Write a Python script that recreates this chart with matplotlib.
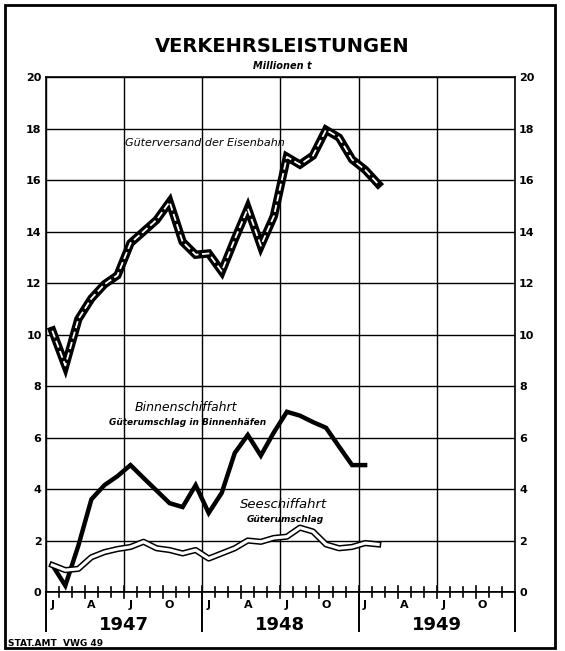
import matplotlib
matplotlib.use("Agg")
import matplotlib.pyplot as plt
import numpy as np

# monthly values, Jan 1947 onward (Millionen t)
eisenbahn = [10.15, 8.8, 10.6, 11.4, 11.95, 12.3, 13.55, 14.0, 14.45, 15.15, 13.6, 13.1,
             13.15, 12.45, 13.7, 14.9, 13.45, 14.6, 16.9, 16.6, 16.95, 17.95, 17.65, 16.8,
             16.4, 15.85]
binnen = [1.05, 0.25, 1.8, 3.6, 4.15, 4.5, 4.93, 4.43, 3.94, 3.45, 3.3, 4.15,
          3.07, 3.85, 5.4, 6.1, 5.3, 6.2, 7.0, 6.85, 6.6, 6.38, 5.65, 4.93,
          4.93]
see = [1.05, 0.85, 0.9, 1.35, 1.55, 1.67, 1.75, 1.95, 1.7, 1.63, 1.5, 1.63,
       1.3, 1.5, 1.7, 2.0, 1.95, 2.1, 2.15, 2.5, 2.35, 1.85, 1.7, 1.75,
       1.9, 1.85]
years = ["1947", "1948", "1949"]
month_labels = ["J", "A", "J", "O"]
yticks = list(range(0, 21, 2))

fig = plt.figure(figsize=(5.65, 6.51), dpi=100)
ax = fig.add_axes([0.081, 0.0906, 0.8305, 0.791])

ax.set_xlim(0, 36)
ax.set_ylim(0, 20)

# grid
for y in yticks:
    ax.axhline(y, color="black", lw=1.0, zorder=1)
for x in range(0, 37, 6):
    ax.axvline(x, color="black", lw=1.0, zorder=1)
ax.axhline(0, color="black", lw=2.0, zorder=2)

# year separators below the axis
for x in range(0, 37, 12):
    ax.plot([x, x], [0, -1.5], color="black", lw=1.4, clip_on=False)

# monthly ticks crossing the axis
for m in range(1, 36):
    h = 0.25 if m % 3 == 0 else 0.2
    ax.plot([m, m], [-h, h], color="black", lw=1.2, clip_on=False, zorder=3)

# month and year labels
for yi, year in enumerate(years):
    for qi, lab in enumerate(month_labels):
        ax.text(yi * 12 + qi * 3 + 0.5, -0.3, lab, ha="center", va="top",
                fontsize=8, fontweight="bold")
    ax.text(yi * 12 + 6, -1.3, year, ha="center", va="center",
            fontsize=13, fontweight="bold")

# Eisenbahn: thick black with white dashed core
xe = np.arange(len(eisenbahn)) + 0.5
ax.plot(xe, eisenbahn, color="black", lw=6, solid_joinstyle="miter", zorder=4)
ax.plot(xe, eisenbahn, color="white", lw=1.3, dashes=(4, 2), zorder=5)

# Binnenschiffahrt: solid black
xb = np.arange(len(binnen)) + 0.5
ax.plot(xb, binnen, color="black", lw=3.2, solid_joinstyle="miter", zorder=4)

# Seeschiffahrt: double line
xs = np.arange(len(see)) + 0.5
ax.plot(xs, see, color="black", lw=4.5, zorder=4)
ax.plot(xs, see, color="white", lw=2.3, zorder=5)

# series labels
ax.text(6.08, 17.44, "Güterversand der Eisenbahn", ha="left", va="center",
        fontsize=8, style="italic")
ax.text(6.85, 7.15, "Binnenschiffahrt", ha="left", va="center",
        fontsize=9, style="italic")
ax.text(10.85, 6.6, "Güterumschlag in Binnenhäfen", ha="center", va="center",
        fontsize=6.5, style="italic", fontweight="bold")
ax.text(14.9, 3.38, "Seeschiffahrt", ha="left", va="center",
        fontsize=9.5, style="italic")
ax.text(18.35, 2.83, "Güterumschlag", ha="center", va="center",
        fontsize=6.5, style="italic", fontweight="bold")

# axes styling
ax.set_xticks([])
ax.set_yticks(yticks)
ax.set_yticklabels([str(v) for v in yticks], fontweight="bold", fontsize=8)
ax.tick_params(axis="y", length=0, pad=3, labelright=True, right=False)
for s in ax.spines.values():
    s.set_linewidth(1.2)

# titles
fig.text(0.5, 0.928, "VERKEHRSLEISTUNGEN", ha="center", va="center",
         fontsize=14, fontweight="bold")
fig.text(0.5, 0.899, "Millionen t", ha="center", va="center",
         fontsize=7, style="italic", fontweight="bold")
fig.text(0.014, 0.012, "STAT.AMT  VWG 49", ha="left", va="center",
         fontsize=6.5, fontweight="bold")

# outer frame
frame = plt.Rectangle((0.0088, 0.0046), 0.9735, 0.9874, transform=fig.transFigure,
                      fill=False, lw=2.0, color="black")
fig.patches.append(frame)

plt.savefig("out.png", dpi=100)
plt.close()
